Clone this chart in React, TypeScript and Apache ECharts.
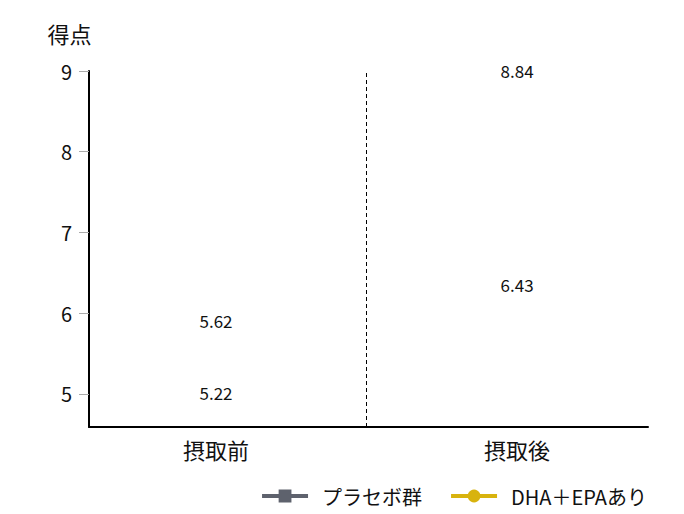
import React, { useEffect, useRef } from "react";
import * as echarts from "echarts";

const categories = ["摂取前", "摂取後"];
const seriesNames = ["プラセボ群", "DHA＋EPAあり"];
const placebo = [5.62, 6.43];
const dhaEpa = [5.22, 8.84];
const yTicks = [5, 6, 7, 8, 9];
const categoryIndex = [0, 1];

const GRAY = "#5e626d";
const YELLOW = "#d8b30e";
const FONT = '"Noto Sans CJK JP", "Noto Sans", sans-serif';

export default function App() {
  const ref = useRef<HTMLDivElement>(null);

  useEffect(() => {
    const chart = echarts.init(ref.current as HTMLDivElement, null, { renderer: "svg" });

    const build = (vals: number[], offsets: number[]) =>
      vals.map((v, i) => ({
        value: [categoryIndex[i], v],
        label: { offset: [0, offsets[i]] },
      }));

    const commonSeries = {
      type: "line" as const,
      symbolSize: 0,
      itemStyle: { color: "rgba(0,0,0,0)" },
      lineStyle: { color: "rgba(0,0,0,0)", width: 0 },
      label: {
        show: true,
        position: "inside" as const,
        color: "#111",
        fontSize: 17,
        fontFamily: FONT,
        formatter: (p: any) => p.value[1].toFixed(2),
      },
      emphasis: { disabled: true },
      silent: true,
    };

    chart.setOption({
      animation: false,
      textStyle: { fontFamily: FONT },
      grid: { left: 89, right: 36, top: 71, bottom: 87 },
      legend: {
        right: 32,
        top: 481,
        itemWidth: 46,
        itemHeight: 16,
        itemGap: 27,
        textStyle: { fontSize: 20, color: "#111", fontFamily: FONT, padding: [0, 0, 0, 9] },
        data: [
          {
            name: seriesNames[0],
            itemStyle: { color: GRAY, opacity: 1 },
            lineStyle: { color: GRAY, width: 4, opacity: 1 },
          },
          {
            name: seriesNames[1],
            itemStyle: { color: YELLOW, opacity: 1 },
            lineStyle: { color: YELLOW, width: 4, opacity: 1 },
          },
        ],
      },
      xAxis: {
        type: "value",
        min: -0.422,
        max: 1.435,
        axisLine: { show: true, onZero: false, lineStyle: { color: "#000", width: 2 } },
        axisTick: { show: false },
        splitLine: { show: false },
        axisLabel: {
          customValues: categoryIndex,
          formatter: (v: number) => categories[Math.round(v)] ?? "",
          fontSize: 22,
          color: "#111",
          margin: 11,
          fontFamily: FONT,
        },
      },
      yAxis: {
        type: "value",
        min: 4.59,
        max: 9,
        name: "得点",
        nameLocation: "end",
        nameGap: 27,
        nameTextStyle: { fontSize: 22, color: "#111", fontFamily: FONT, padding: [0, 39, 0, 0] },
        axisLine: { show: true, onZero: false, lineStyle: { color: "#000", width: 2 } },
        axisTick: { show: true, length: 10, customValues: yTicks, lineStyle: { color: "#aaa", width: 1 } },
        splitLine: { show: false },
        axisLabel: {
          customValues: yTicks,
          fontSize: 20,
          color: "#111",
          margin: 17,
          fontFamily: FONT,
        },
      },
      series: [
        {
          ...commonSeries,
          name: seriesNames[0],
          symbol: "rect",
          data: build(placebo, [-23, 6]),
          markLine: {
            silent: true,
            symbol: "none",
            label: { show: false },
            lineStyle: { color: "#000", width: 1, type: [4, 3] },
            data: [{ xAxis: 0.5 }],
          },
        },
        {
          ...commonSeries,
          name: seriesNames[1],
          symbol: "circle",
          data: build(dhaEpa, [16.5, -13]),
        },
      ],
    });

    return () => chart.dispose();
  }, []);

  return (
    <div
      ref={ref}
      style={{ position: "absolute", left: 0, top: 0, width: 684, height: 514 }}
    />
  );
}
